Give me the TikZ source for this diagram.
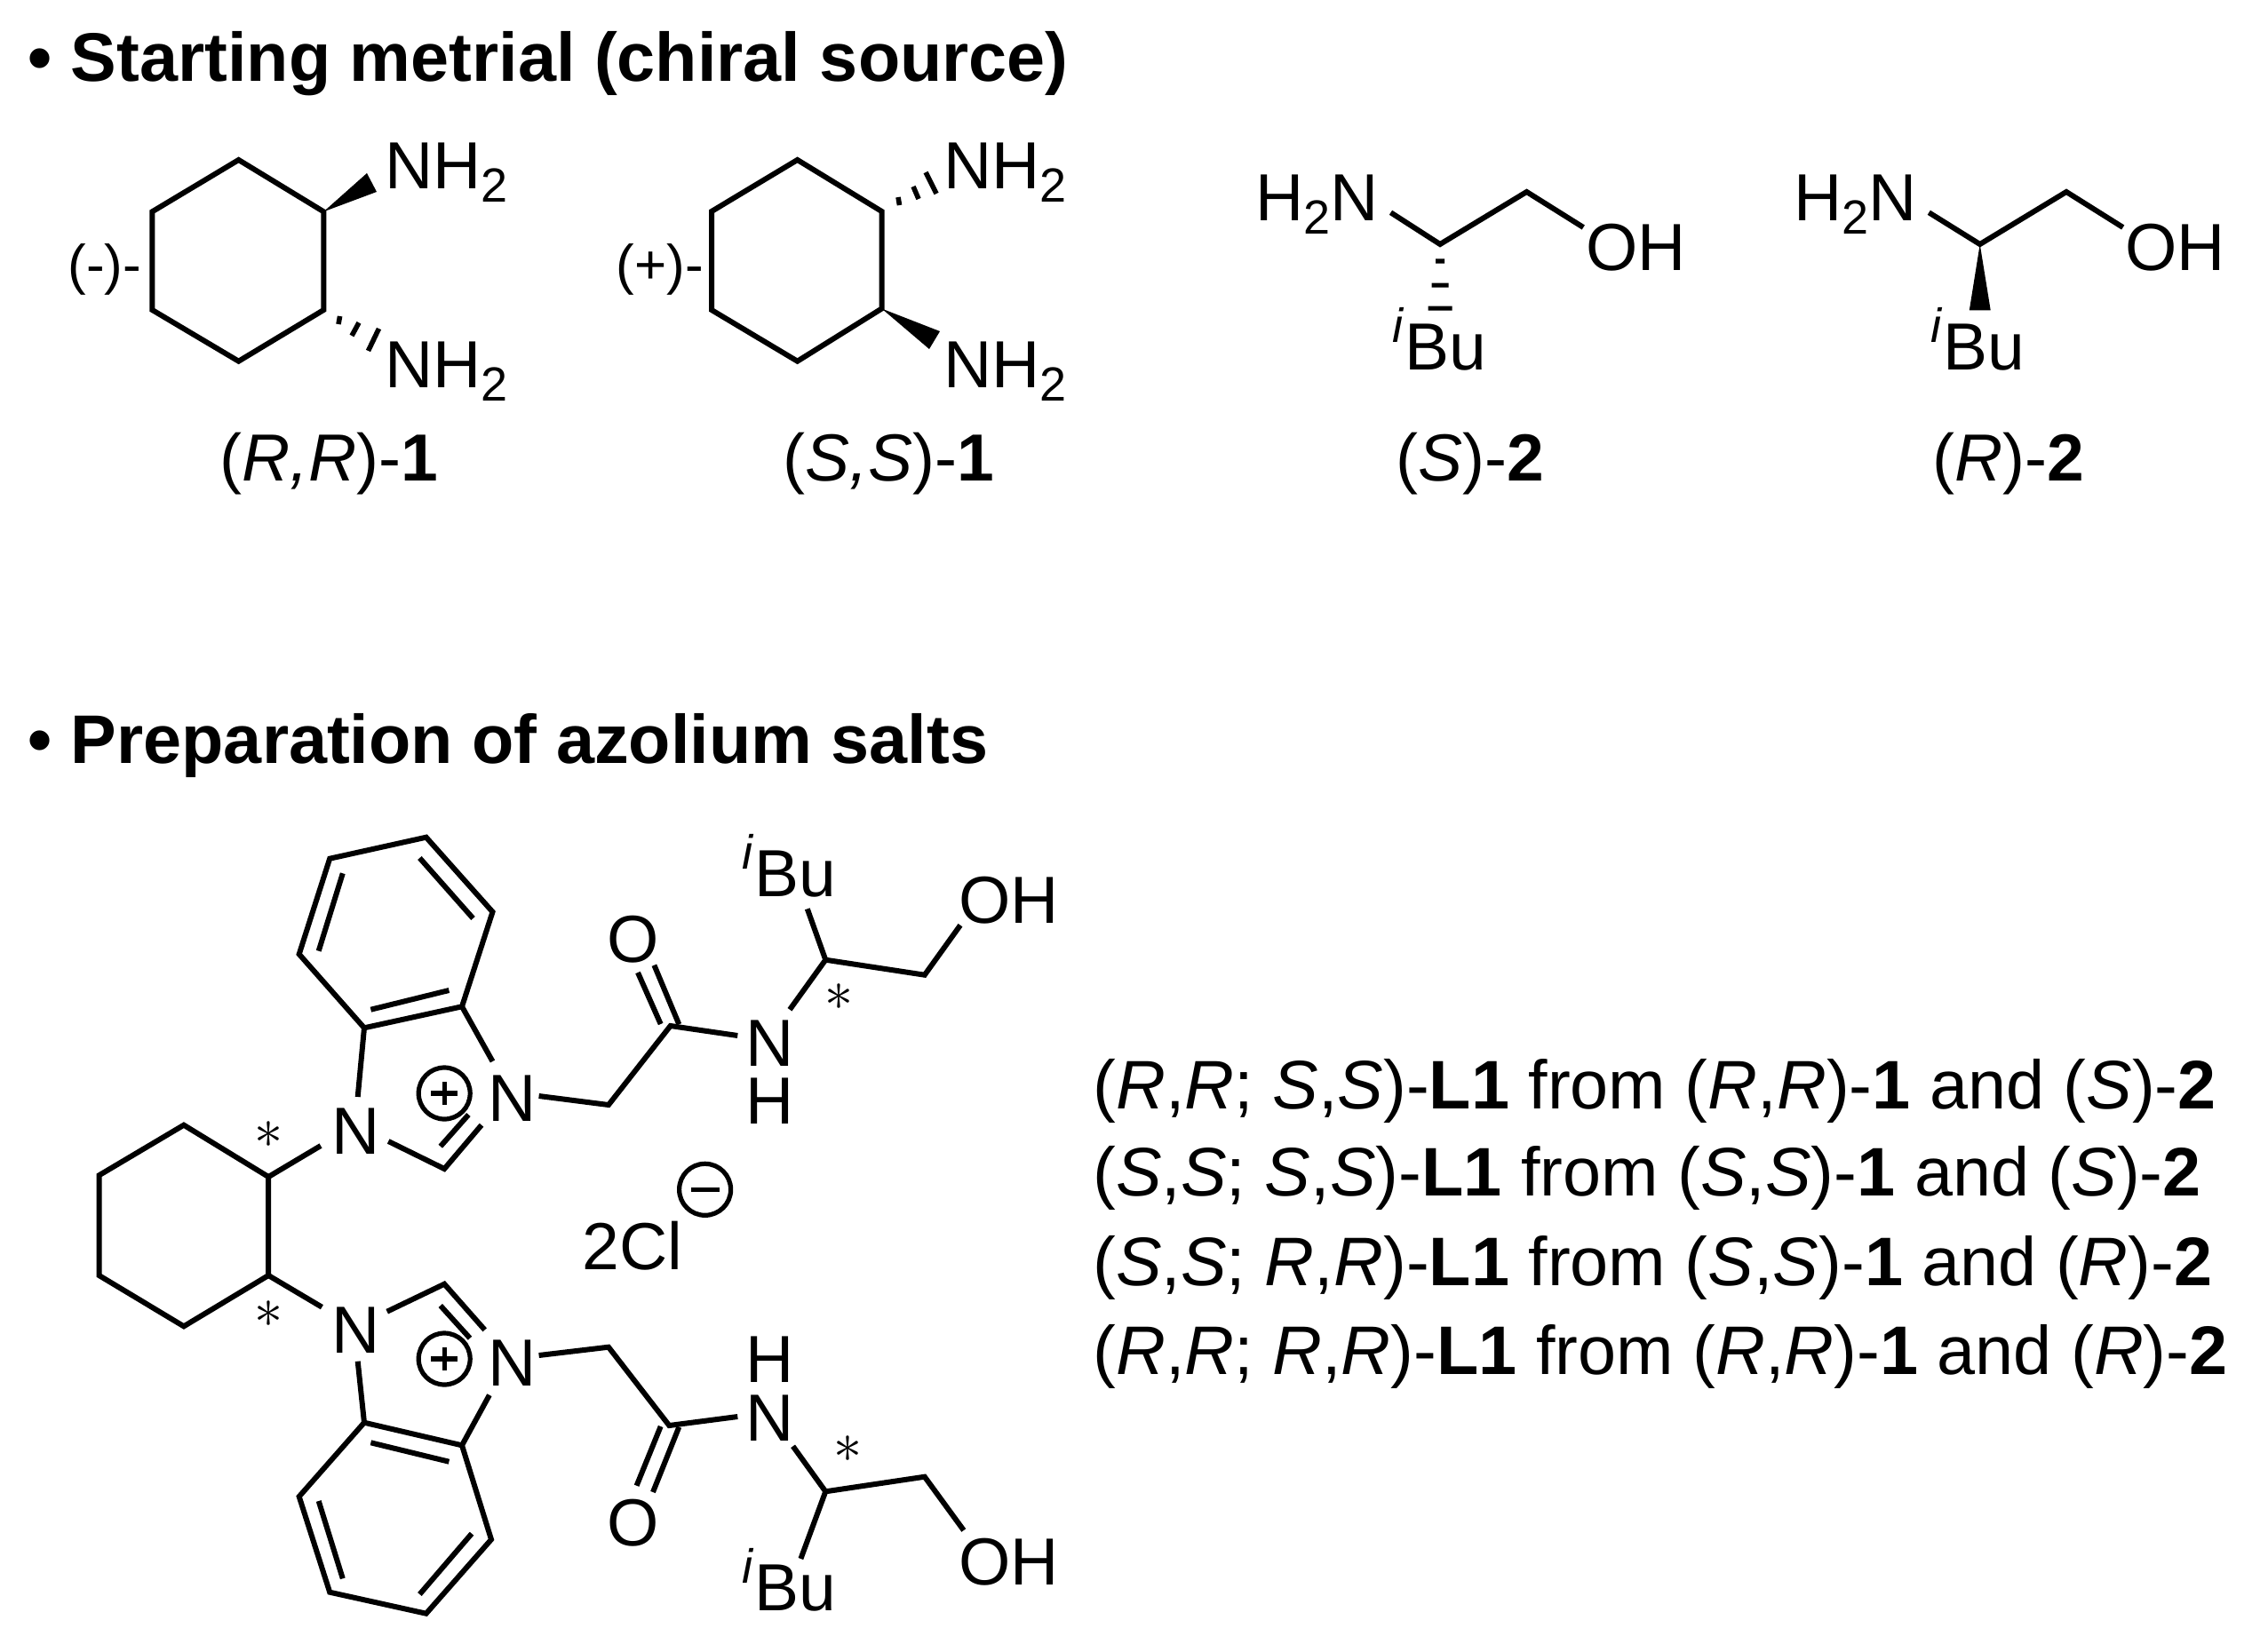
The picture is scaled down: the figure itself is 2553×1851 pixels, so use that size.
\documentclass[tikz,border=0pt]{standalone}
\usepackage{fontspec}
\setmainfont{Liberation Sans}
\newcommand{\fs}[1]{\fontsize{#1}{#1}\selectfont}
\newcommand{\subtwo}{\raisebox{-7.5pt}{\fs{27}2}}
\newcommand{\ibu}{\raisebox{15.5pt}{\fs{27}\itshape i}\kern1pt Bu}
\tikzset{
  x=0.5pt,y=-0.5pt,
  bond/.style={line width=3pt,line join=miter,line cap=butt},
  hashmark/.style={line width=2.8pt},
  lab/.style={anchor=base west,inner sep=0pt,font=\fs{37.5},xshift=-2pt},
  sm/.style={anchor=base west,inner sep=0pt,font=\fs{31},xshift=-2pt},
  head/.style={anchor=base west,inner sep=0pt,font=\fs{38.7}\bfseries},
  row/.style={anchor=base west,inner sep=0pt,font=\fs{38.7}},
  star/.style={inner sep=0pt,scale=3.2},
  chargering/.style={draw,line width=2.6pt,minimum size=29pt,inner sep=0pt,circle},
}
\begin{document}
\begin{tikzpicture}
\useasboundingbox (0,0) rectangle (2553,1851);
\fill[white] (0,0) rectangle (2553,1851);
% headings
\node[head] (h1) at (31,92) {• Starting metrial (chiral source)};
\node[head] (h2) at (31,859) {• Preparation of azolium salts};
% (R,R)-1
\coordinate (a1) at (268.6,180);\coordinate (a2) at (364.3,238.3);\coordinate (a3) at (364.3,349);
\coordinate (a4) at (268.6,406.7);\coordinate (a5) at (171.4,349);\coordinate (a6) at (171.4,238.3);
\draw[bond] (a1)--(a2)--(a3)--(a4)--(a5)--(a6)--cycle;
\coordinate (aw1) at (413,195);\coordinate (aw2) at (424,216);
\fill (a2)--(aw1)--(aw2)--cycle;
\draw[hashmark] (382.6,356)--(381,365) (404,363.3)--(396,378) (426.5,370)--(414.5,395);
\node[lab] (an1) at (437,212.7) {NH\subtwo};
\node[lab] (an2) at (437,436) {NH\subtwo};
\node[sm] (apm) at (80,320) {(-)-};
\node[lab] (acap) at (251,541.7) {(\textit{R,R})-\textbf{1}};
% (S,S)-1
\coordinate (b1) at (897.6,180);\coordinate (b2) at (992.5,238);\coordinate (b3) at (992.5,347.5);
\coordinate (b4) at (897.6,406.7);\coordinate (b5) at (801,349);\coordinate (b6) at (801,238);
\draw[bond] (b1)--(b2)--(b3)--(b4)--(b5)--(b6)--cycle;
\coordinate (bw1) at (1058,373);\coordinate (bw2) at (1046,393);
\fill (b3)--(bw1)--(bw2)--cycle;
\draw[hashmark] (1011,222)--(1012.5,231) (1028,210)--(1034,224) (1042,194)--(1054,218);
\node[lab] (bn1) at (1066,212.7) {NH\subtwo};
\node[lab] (bn2) at (1066,436) {NH\subtwo};
\node[sm] (bpm) at (697.5,320) {(+)-};
\node[lab] (bcap) at (885,541.7) {(\textit{S,S})-\textbf{1}};
% (S)-2
\coordinate (c0) at (1565.5,239.3);\coordinate (c1) at (1621,275);\coordinate (c2) at (1718.5,216);\coordinate (c3) at (1782.3,256);
\draw[bond] (c0)--(c1)--(c2)--(c3);
\fill (1616,291.5) rectangle (1626,296.5) (1611.5,318.5) rectangle (1630.5,323.5) (1607.5,344.5) rectangle (1634.5,349.5);
\node[lab] (cn) at (1417,248.3) {H\subtwo N};
\node[lab] (co) at (1788.7,305) {OH};
\node[lab] (cb) at (1571,416) {\ibu};
\node[lab] (ccap) at (1575,541.7) {(\textit{S})-\textbf{2}};
% (R)-2
\coordinate (d0) at (2171.3,239.3);\coordinate (d1) at (2228.7,275);\coordinate (d2) at (2326,216);\coordinate (d3) at (2389.7,256);
\draw[bond] (d0)--(d1)--(d2)--(d3);
\coordinate (dw1) at (2216.8,349.3);\coordinate (dw2) at (2240.7,349.3);
\fill (d1)--(dw1)--(dw2)--cycle;
\node[lab] (dn) at (2023,248.3) {H\subtwo N};
\node[lab] (do) at (2396,305) {OH};
\node[lab] (db) at (2177,416) {\ibu};
\node[lab] (dcap) at (2179,541.7) {(\textit{R})-\textbf{2}};
% cyclohexane of L1
\coordinate (e1) at (302.2,1325);\coordinate (e2) at (206.9,1266.7);\coordinate (e3) at (111.5,1323.3);
\coordinate (e4) at (111.5,1436);\coordinate (e5) at (206.9,1493.3);\coordinate (e6) at (302.2,1436);
\draw[bond] (e1)--(e2)--(e3)--(e4)--(e5)--(e6)--cycle;
\node[star] (s1) at (302,1278) {$\ast$};
\node[star] (s2) at (302,1480) {$\ast$};
% upper arm
\coordinate (u1) at (479.7,942.7);\coordinate (u2) at (371.2,966.7);\coordinate (u3) at (336.7,1074.3);
\coordinate (u4) at (410,1157.3);\coordinate (u5) at (520,1133.3);\coordinate (u6) at (554.5,1026.7);
\draw[bond] (u1)--(u2)--(u3)--(u4)--(u5)--(u6)--cycle;
\draw[bond] (385.8,983.3)--(358.7,1070.7) (472.4,966)--(532.5,1034) (417.4,1136.7)--(505.4,1115);
\coordinate (un1a) at (402.7,1235);\coordinate (un2a) at (554.5,1195);
\draw[bond] (u4)--(un1a) (u5)--(un2a);
\node[lab] (un1) at (377,1299) {N};
\node[lab] (un2) at (553,1262) {N};
\coordinate (ub1) at (361,1290);\draw[bond] (e1)--(ub1);
\coordinate (uh0) at (437.2,1285);\coordinate (uh) at (500.2,1316);\coordinate (uh1) at (542,1266.7);
\draw[bond] (uh0)--(uh)--(uh1) (495.8,1290.7)--(527.4,1255);
\node[chargering] (up) at (500.2,1231) {};
\draw[line width=2.6pt] (up.center)+(-15,0)--+(15,0) (up.center)+(0,-13)--+(0,13);
\coordinate (ua) at (606.6,1234);\coordinate (uc) at (685,1244);\coordinate (ud) at (754.7,1155);\coordinate (ue) at (830.3,1166);
\draw[bond] (ua)--(uc)--(ud)--(ue);
\draw[bond] (764.3,1153.3)--(736.4,1086.7) (743.7,1153)--(718,1095);
\node[lab] (uo) at (687,1083) {O};
\node[lab] (unh) at (842.7,1200) {N};
\node[lab] (uhh) at (842.7,1265) {H};
\coordinate (uf) at (889,1136.7);\coordinate (ug) at (929.3,1080.7);\coordinate (uk) at (908.8,1023.3);\coordinate (ui) at (1040.8,1097.7);\coordinate (uj) at (1081,1041.7);
\draw[bond] (uf)--(ug)--(ui)--(uj) (ug)--(uk);
\node[lab] (uoh) at (1083,1039) {OH};
\node[lab] (ubu) at (839,1009) {\ibu};
\node[star] (s3) at (944,1123) {$\ast$};
% chloride
\node[lab] (cl) at (659.4,1429.3) {2Cl};
\node[chargering] (minus) at (793.6,1339.3) {};
\draw[line width=2.8pt] (minus.center)+(-16,0)--+(16,0);
% lower arm
\coordinate (v1) at (479.7,1816.7);\coordinate (v2) at (371.2,1792.7);\coordinate (v3) at (336.7,1685);
\coordinate (v4) at (410,1601.7);\coordinate (v5) at (520,1627.3);\coordinate (v6) at (553,1733.3);
\draw[bond] (v1)--(v2)--(v3)--(v4)--(v5)--(v6)--cycle;
\draw[bond] (358.7,1690)--(385.8,1777.3) (531,1726.7)--(472.4,1795) (417.4,1624.3)--(505.4,1645.7);
\coordinate (vn1a) at (402.7,1532.7);\coordinate (vn2a) at (550.9,1570.7);
\draw[bond] (v4)--(vn1a) (v5)--(vn2a);
\node[lab] (vn1) at (377,1523.5) {N};
\node[lab] (vn2) at (553,1560) {N};
\coordinate (vb1) at (362.4,1471.7);\draw[bond] (e6)--(vb1);
\coordinate (vh0) at (435.7,1476.7);\coordinate (vh) at (500.2,1445.7);\coordinate (vh1) at (545.7,1497.3);
\draw[bond] (vh0)--(vh)--(vh1) (495.8,1470)--(529,1506.7);
\node[chargering] (vp) at (500.2,1530) {};
\draw[line width=2.6pt] (vp.center)+(-15,0)--+(15,0) (vp.center)+(0,-13)--+(0,13);
\coordinate (va) at (606.6,1526);\coordinate (vc) at (685,1516.7);\coordinate (vd) at (753.3,1605);\coordinate (ve) at (830.3,1595);
\draw[bond] (va)--(vc)--(vd)--(ve);
\draw[bond] (764.3,1606.7)--(735,1680) (743.7,1606)--(716.6,1672.7);
\node[lab] (vo) at (687,1740.7) {O};
\node[lab] (vnh) at (842.7,1622) {N};
\node[lab] (vhh) at (842.7,1556.7) {H};
\coordinate (vf) at (892.6,1628.3);\coordinate (vg) at (929.3,1679.3);\coordinate (vk) at (901.4,1755);\coordinate (vi) at (1040.8,1662.7);\coordinate (vj) at (1084.8,1723);
\draw[bond] (vf)--(vg)--(vi)--(vj) (vg)--(vk);
\node[lab] (voh) at (1083,1784) {OH};
\node[lab] (vbu) at (839,1813) {\ibu};
\node[star] (s4) at (954,1632) {$\ast$};
% table
\node[row] (r1) at (1230,1248) {(\textit{R},\textit{R}; \textit{S},\textit{S})-\textbf{L1} from (\textit{R},\textit{R})-\textbf{1} and (\textit{S})-\textbf{2}};
\node[row] (r2) at (1230,1346) {(\textit{S},\textit{S}; \textit{S},\textit{S})-\textbf{L1} from (\textit{S},\textit{S})-\textbf{1} and (\textit{S})-\textbf{2}};
\node[row] (r3) at (1230,1447.7) {(\textit{S},\textit{S}; \textit{R},\textit{R})-\textbf{L1} from (\textit{S},\textit{S})-\textbf{1} and (\textit{R})-\textbf{2}};
\node[row] (r4) at (1230,1547) {(\textit{R},\textit{R}; \textit{R},\textit{R})-\textbf{L1} from (\textit{R},\textit{R})-\textbf{1} and (\textit{R})-\textbf{2}};
\end{tikzpicture}
\end{document}
